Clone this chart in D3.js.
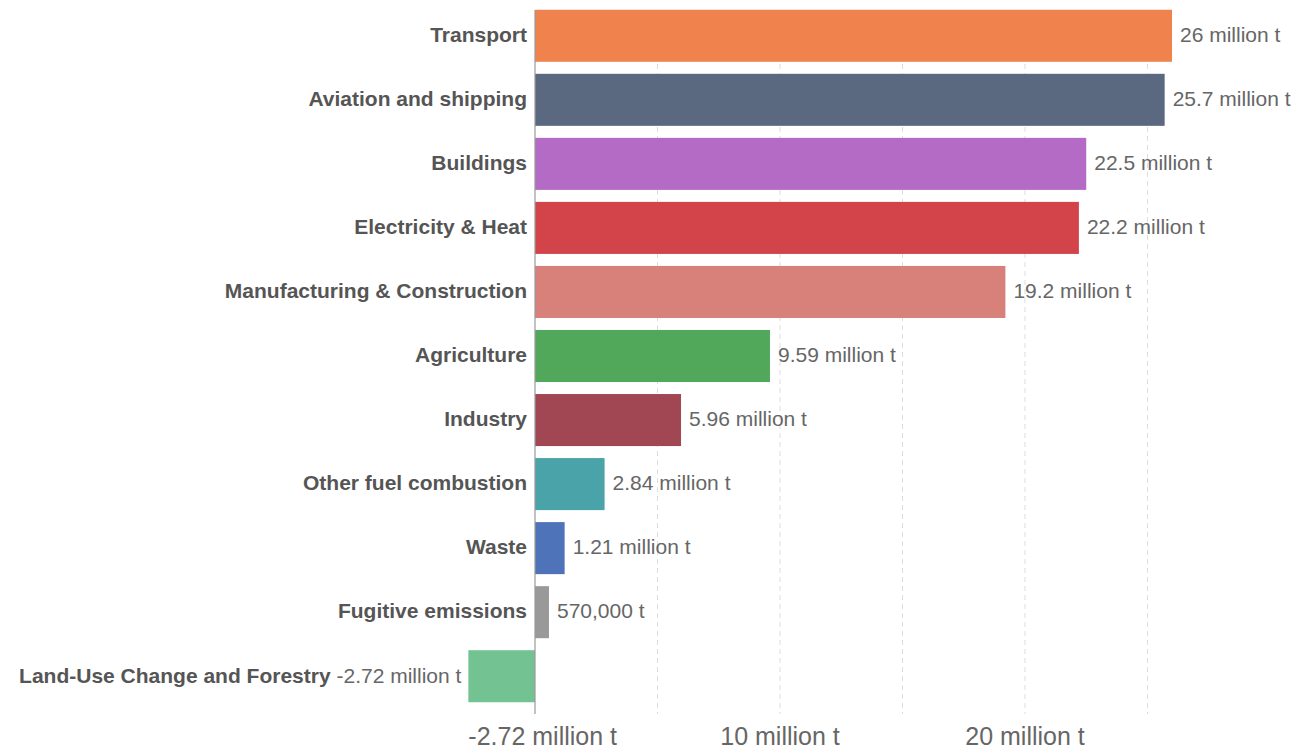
<!DOCTYPE html>
<html>
<head>
<meta charset="utf-8">
<script src="https://cdn.jsdelivr.net/npm/d3@7"></script>
<style>
  html, body { margin: 0; padding: 0; background: #fff; }
  svg { display: block; font-family: "Liberation Sans", "DejaVu Sans", Arial, sans-serif; }
</style>
</head>
<body>
<svg id="chart" width="1295" height="751"></svg>
<script>
const categories = ["Transport", "Aviation and shipping", "Buildings", "Electricity & Heat",
  "Manufacturing & Construction", "Agriculture", "Industry", "Other fuel combustion",
  "Waste", "Fugitive emissions", "Land-Use Change and Forestry"];
const values = [26.0, 25.7, 22.5, 22.2, 19.2, 9.59, 5.96, 2.84, 1.21, 0.57, -2.72];
const valueLabels = ["26 million t", "25.7 million t", "22.5 million t", "22.2 million t",
  "19.2 million t", "9.59 million t", "5.96 million t", "2.84 million t", "1.21 million t",
  "570,000 t", "-2.72 million t"];
const colors = ["#f0834d", "#5a6880", "#b36bc6", "#d2444a", "#d8817a", "#51a85b",
  "#a14754", "#4aa3a8", "#4f73b8", "#999999", "#73c392"];
const tickValues = [-2.72, 10, 20];
const tickLabels = ["-2.72 million t", "10 million t", "20 million t"];
const gridValues = [5, 10, 15, 20, 25];

const svg = d3.select("#chart");
const x = d3.scaleLinear().domain([0, 20]).range([535, 1025]);
const y = d3.scaleBand().domain(categories).range([4, 708]).paddingInner(0.1875).paddingOuter(0.09);

// grid
svg.append("g").selectAll("line").data(gridValues).join("line")
  .attr("x1", d => x(d)).attr("x2", d => x(d))
  .attr("y1", 10).attr("y2", 714)
  .attr("stroke", "#dddddd").attr("stroke-width", 1).attr("stroke-dasharray", "5,4");

// bars
svg.append("g").selectAll("rect").data(values).join("rect")
  .attr("x", d => x(Math.min(0, d)))
  .attr("width", d => Math.abs(x(d) - x(0)))
  .attr("y", (d, i) => y(categories[i]))
  .attr("height", y.bandwidth())
  .attr("fill", (d, i) => colors[i]);

// zero line
svg.append("line").attr("x1", x(0)).attr("x2", x(0)).attr("y1", 10).attr("y2", 714)
  .attr("stroke", "#999").attr("stroke-width", 1.2);

// category labels
svg.append("g").selectAll("text").data(categories).join("text")
  .attr("x", x(0) - 8)
  .attr("y", d => y(d) + y.bandwidth() / 2)
  .attr("dy", "0.3em")
  .attr("text-anchor", "end")
  .attr("font-size", 21).attr("font-weight", "bold").attr("fill", "#555")
  .each(function(d, i) {
    const t = d3.select(this);
    if (values[i] < 0) {
      t.attr("x", x(values[i]) - 7);
      t.append("tspan").text(d + " ");
      t.append("tspan").attr("font-weight", "normal").attr("fill", "#666").text(valueLabels[i]);
    } else {
      t.text(d);
    }
  });

// value labels
svg.append("g").selectAll("text").data(values).join("text")
  .filter(d => d >= 0)
  .attr("x", d => x(d) + 8)
  .attr("y", (d, i) => y(categories[i]) + y.bandwidth() / 2)
  .attr("dy", "0.3em")
  .attr("font-size", 21).attr("fill", "#666")
  .text((d, i) => valueLabels[i]);

// axis labels
svg.append("g").selectAll("text").data(tickValues).join("text")
  .attr("x", d => x(d))
  .attr("y", 745)
  .attr("text-anchor", (d, i) => i === 0 ? "start" : "middle")
  .attr("font-size", 25).attr("fill", "#666")
  .text((d, i) => tickLabels[i]);
</script>
</body>
</html>
